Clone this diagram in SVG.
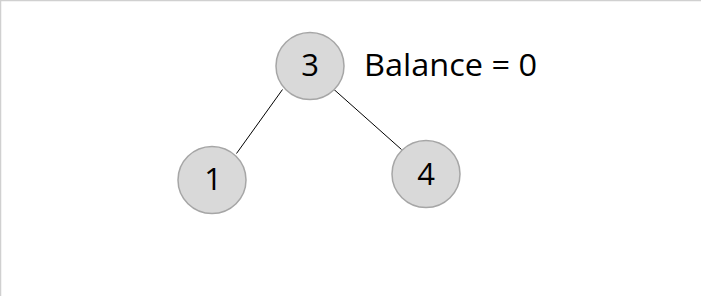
<svg xmlns="http://www.w3.org/2000/svg" width="701" height="296" viewBox="0 0 701 296">
<style>
.node{fill:#d9d9d9;stroke:#a6a6a6;stroke-width:1.5}
.lbl{font-family:"Open Sans","Liberation Sans",sans-serif;font-size:31px;fill:#000;text-anchor:middle}
.edge{stroke:#000;stroke-width:1;fill:none}
</style>
<rect x="0" y="0" width="701" height="296" fill="#fff"/>
<path d="M0.5 296 V0.5 H701" stroke="#d0d0d0" stroke-width="1.5" fill="none"/>
<g id="connectors">
<line class="edge" x1="282.5" y1="89.5" x2="236.5" y2="153.5"/>
<line class="edge" x1="334" y1="89.5" x2="401.5" y2="149.5"/>
</g>
<g id="node3">
<ellipse class="node" cx="310" cy="66" rx="34" ry="33.5"/>
<text class="lbl" x="310" y="76">3</text>
</g>
<g id="node1">
<ellipse class="node" cx="212" cy="180" rx="34" ry="33.5"/>
<text class="lbl" x="213" y="190">1</text>
</g>
<g id="node4">
<ellipse class="node" cx="426" cy="174" rx="34" ry="33.5"/>
<text class="lbl" x="426" y="185">4</text>
</g>
<text x="364" y="76" font-family="'Open Sans','Liberation Sans',sans-serif" font-size="31" textLength="173" lengthAdjust="spacingAndGlyphs">Balance = 0</text>
</svg>
